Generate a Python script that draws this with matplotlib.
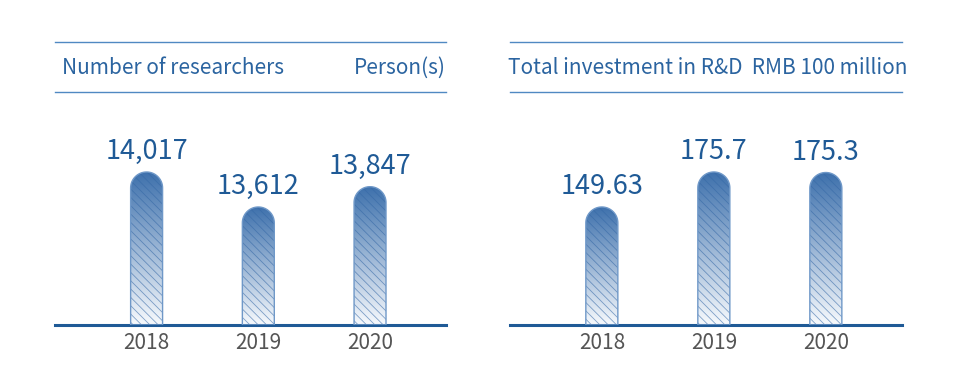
import numpy as np
import matplotlib.pyplot as plt
from matplotlib.patches import Polygon
from matplotlib.lines import Line2D
from matplotlib.colors import LinearSegmentedColormap

plt.rcParams['font.family'] = ['Noto Sans CJK SC', 'DejaVu Sans']
plt.rcParams['hatch.linewidth'] = 0.6

# Data
years = ["2018", "2019", "2020"]
researchers = [14017, 13612, 13847]
researcher_labels = ["14,017", "13,612", "13,847"]
investment = [149.63, 175.7, 175.3]
investment_labels = ["149.63", "175.7", "175.3"]

W, H = 960, 380
fig = plt.figure(figsize=(W / 100, H / 100), dpi=100)

dark = "#1f5a96"
title_c = "#2b64a0"
cmap = LinearSegmentedColormap.from_list("bar", ["#f7fafd", "#3d70ac"])


def px_box(x0, x1, ytop, ybot):
    return [x0 / W, 1 - ybot / H, (x1 - x0) / W, (ybot - ytop) / H]


def rounded_bars(ax, values, labels, ylim, width=0.286):
    ax.set_xlim(-0.82, 2.68)
    ax.set_ylim(*ylim)
    bbox = ax.get_window_extent()
    px_x = bbox.width / (2.68 + 0.82)
    px_y = bbox.height / (ylim[1] - ylim[0])
    rx = width / 2
    ry = rx * px_x / px_y
    t = np.linspace(0, np.pi, 40)
    for i, (v, lab) in enumerate(zip(values, labels)):
        x0, x1 = i - rx, i + rx
        pts = [(x0, ylim[0]), (x1, ylim[0])]
        pts += list(zip(i + rx * np.cos(t), v - ry + ry * np.sin(t)))
        grad = np.linspace(0, 1, 256).reshape(-1, 1)
        im = ax.imshow(grad, cmap=cmap, origin="lower", aspect="auto",
                       extent=(x0, x1, ylim[0], v), zorder=2)
        clip = Polygon(pts, closed=True, facecolor="none", edgecolor="none")
        ax.add_patch(clip)
        im.set_clip_path(clip)
        ax.add_patch(Polygon(pts, closed=True, facecolor="none",
                             edgecolor="#3568a6", hatch="\\\\\\\\", lw=0,
                             alpha=0.6, zorder=3))
        ax.add_patch(Polygon(pts, closed=True, facecolor="none",
                             edgecolor="#6f98c8", lw=1.0, zorder=4))
        ax.annotate(lab, (i, v), xytext=(0, 5), textcoords="offset points",
                    ha="center", va="bottom", fontsize=19.5, color=dark)
    ax.set_ylim(*ylim)
    ax.set_xlim(-0.82, 2.68)
    ax.set_xticks(range(len(years)))
    ax.set_xticklabels(years, fontsize=15, color="#555555")
    ax.tick_params(axis="x", length=0, pad=5)
    ax.set_yticks([])
    for s in ["top", "left", "right"]:
        ax.spines[s].set_visible(False)
    ax.spines["bottom"].set_color(dark)
    ax.spines["bottom"].set_linewidth(2.2)
    ax.set_facecolor("none")


ax1 = fig.add_axes(px_box(55, 446, 100, 325))
rounded_bars(ax1, researchers, researcher_labels, (12246.6, 14850))

ax2 = fig.add_axes(px_box(510, 902, 100, 325))
rounded_bars(ax2, investment, investment_labels, (61.73, 229.3))

# Header lines and titles
for x0, x1 in [(55, 446), (510, 902)]:
    for y in (42, 92):
        fig.add_artist(Line2D([x0 / W, x1 / W], [1 - y / H, 1 - y / H],
                              color="#5089c2", lw=1.0))

ty = 1 - 68 / H
fig.text(62 / W, ty, "Number of researchers", ha="left", va="center",
         fontsize=15, color=title_c)
fig.text(446 / W, ty, "Person(s)", ha="right", va="center",
         fontsize=15, color=title_c)
fig.text(708 / W, ty, "Total investment in R&D  RMB 100 million",
         ha="center", va="center", fontsize=15, color=title_c)

fig.savefig("out.png", dpi=100)
